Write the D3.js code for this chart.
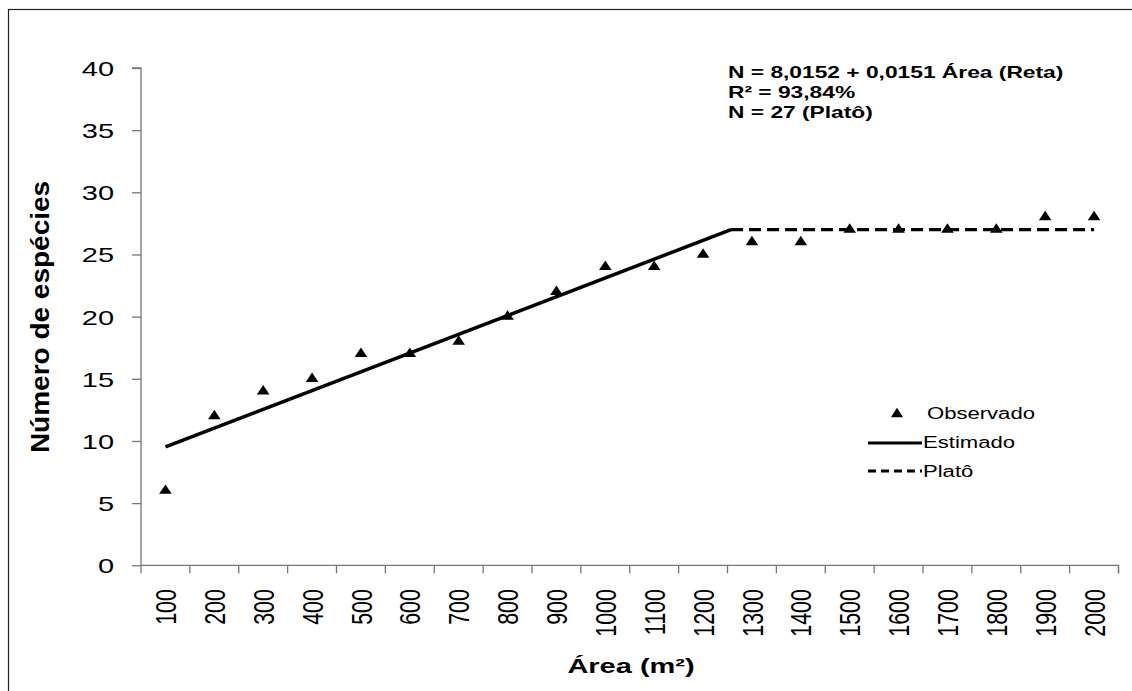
<!DOCTYPE html>
<html><head><meta charset="utf-8">
<script src="https://cdn.jsdelivr.net/npm/d3@7"></script>
<style>body{margin:0;background:#fff;} svg{display:block;}</style>
</head><body>
<svg id="c" width="1132" height="691"></svg>
<script>
const areas = [100,200,300,400,500,600,700,800,900,1000,1100,1200,1300,1400,1500,1600,1700,1800,1900,2000];
const observed = [6,12,14,15,17,17,18,20,22,24,24,25,26,26,27,27,27,27,28,28];
const yTicks = [0,5,10,15,20,25,30,35,40];
const intercept = 8.0152, slope = 0.0151, plateau = 27;
const annotation = ["N = 8,0152 + 0,0151 Área (Reta)", "R² = 93,84%", "N = 27 (Platô)"];
const legendLabels = ["Observado", "Estimado", "Platô"];
const yTitle = "Número de espécies", xTitle = "Área (m²)";

const SX = 1.38;
const FONT = "'Liberation Sans', Arial, sans-serif";
const svg = d3.select("#c");
svg.append("rect").attr("x",8.5).attr("y",9.5).attr("width",1200).attr("height",800)
  .attr("fill","#fff").attr("stroke","#222").attr("stroke-width",1.2);

const L = 141, R = 1118.5, T = 68, B = 565.3;
const x = d3.scaleBand().domain(areas).range([L,R]).padding(0);
const xLin = d3.scaleLinear().domain([50,2050]).range([L,R]);
const y = d3.scaleLinear().domain([0,40]).range([B,T]);

function stext(g, tx, ty, str, opts){
  const rot = opts.rotate||0;
  const sx = opts.sx!=null?opts.sx:SX;
  const t = g.append("text")
    .attr("transform",`translate(${tx},${ty}) scale(${sx},1)`+(rot?` rotate(${rot})`:""))
    .attr("font-family",FONT).attr("font-size",opts.size)
    .attr("font-weight",opts.bold?"bold":"normal")
    .attr("text-anchor",opts.anchor||"start").attr("fill","#000").text(str);
  return t;
}

// axes
const ax = svg.append("g");
const yAxis = d3.axisLeft(y).tickValues(yTicks).tickSize(9).tickFormat(()=> "");
const gy = ax.append("g").attr("transform",`translate(${L},0)`).call(yAxis);
const xAxis = d3.axisBottom(x).tickSize(0).tickFormat(()=> "");
const gx = ax.append("g").attr("transform",`translate(0,${B})`).call(xAxis);
gy.select(".domain").attr("d",`M-9,${T}H0V${B}`);
gx.select(".domain").attr("d",`M${L},0H${R}V8`);
[gx,gy].forEach(g=>g.selectAll("path,line").attr("stroke","#777").attr("stroke-width",1.3));
const bounds = areas.map(a=>x(a)).concat([R]);
gx.selectAll("line.b").data(bounds).enter().append("line").attr("class","b")
  .attr("x1",d=>d).attr("x2",d=>d).attr("y1",0).attr("y2",8).attr("stroke","#777").attr("stroke-width",1.3);

// y tick labels
yTicks.forEach(v=> stext(svg, 114, y(v)+8, String(v), {size:21, anchor:"end"}));
// x tick labels
areas.forEach(a=> stext(svg, x(a)+x.bandwidth()/2 + 0.358*21.5*SX, 589, String(a), {size:21.5, anchor:"end", rotate:-90}));

// titles
stext(svg, 49, 317, yTitle, {size:28, bold:true, anchor:"middle", rotate:-90, sx:0.95});
stext(svg, 631, 673, xTitle, {size:21, bold:true, anchor:"middle"});

// fitted line and plateau
const xJoin = (plateau - intercept)/slope;
svg.append("path")
  .attr("d", d3.line()([[xLin(areas[0]), y(intercept+slope*areas[0])],[xLin(xJoin), y(plateau)]]))
  .attr("stroke","#000").attr("stroke-width",3.5).attr("fill","none");
svg.append("path")
  .attr("d", d3.line()([[xLin(xJoin), y(plateau)],[xLin(areas[areas.length-1]), y(plateau)]]))
  .attr("stroke","#000").attr("stroke-width",3.2).attr("fill","none").attr("stroke-dasharray","12,6");

// observed triangles
const tri = d3.symbol().type(d3.symbolTriangle).size(52);
svg.selectAll("path.obs").data(areas).enter().append("path").attr("class","obs")
  .attr("d",tri).attr("fill","#000")
  .attr("transform",(a,i)=>`translate(${x(a)+x.bandwidth()/2},${y(observed[i])}) scale(1.15,1)`);

// annotation
annotation.forEach((s,i)=> stext(svg, 728, 78 + i*20, s, {size:16.5, bold:true, sx:1.38}));

// legend
svg.append("path").attr("d",tri).attr("fill","#000").attr("transform","translate(897,414) scale(1.1,1)");
stext(svg, 927, 419, legendLabels[0], {size:16});
svg.append("line").attr("x1",868).attr("x2",922).attr("y1",443).attr("y2",443).attr("stroke","#000").attr("stroke-width",3);
stext(svg, 923, 448, legendLabels[1], {size:16});
svg.append("line").attr("x1",868).attr("x2",922).attr("y1",471).attr("y2",471).attr("stroke","#000").attr("stroke-width",3).attr("stroke-dasharray","8,5");
stext(svg, 923, 477, legendLabels[2], {size:16});
</script>
</body></html>
